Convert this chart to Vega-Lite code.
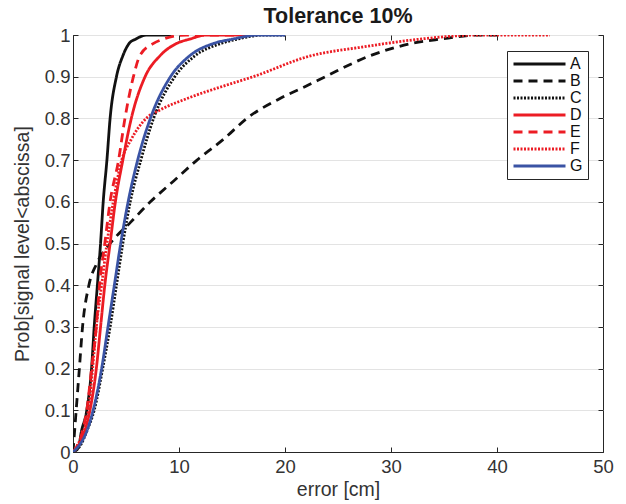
{
 "$schema": "https://vega.github.io/schema/vega-lite/v6.json",
 "width": 530, "height": 417,
 "autosize": {"type": "none"},
 "padding": {"left": 73, "top": 35, "right": 23, "bottom": 52},
 "background": "white",
 "title": {"text": "Tolerance 10%", "fontSize": 21.5, "font": "Liberation Sans", "fontWeight": "bold", "color": "#1a1a1a", "offset": -1, "anchor": "middle"},
 "config": {
  "view": {"stroke": "#262626", "strokeWidth": 1},
  "axis": {"labelFont": "Liberation Sans", "labelFontSize": 18.5, "labelColor": "#333333", "titleFont": "Liberation Sans", "titleFontSize": 19.5, "titleFontWeight": "normal", "titleColor": "#333333", "domainColor": "#262626", "tickColor": "#262626", "tickSize": -5, "gridColor": "#e3e3e3", "gridWidth": 1, "labelFlush": false}
 },
 "data": {"values": [
  {"s":"A","x":0,"y":0},{"s":"A","x":0.5,"y":0.01},{"s":"A","x":0.8,"y":0.05},{"s":"A","x":1.3,"y":0.1},{"s":"A","x":1.75,"y":0.2},{"s":"A","x":2.0,"y":0.3},{"s":"A","x":2.3,"y":0.4},{"s":"A","x":2.6,"y":0.5},{"s":"A","x":2.85,"y":0.6},{"s":"A","x":3.2,"y":0.7},{"s":"A","x":3.5,"y":0.8},{"s":"A","x":4.1,"y":0.9},{"s":"A","x":4.7,"y":0.95},{"s":"A","x":5.3,"y":0.98},{"s":"A","x":5.9,"y":0.99},{"s":"A","x":7,"y":1},{"s":"A","x":9.3,"y":1},
  {"s":"B","x":0,"y":0},{"s":"B","x":0.15,"y":0.05},{"s":"B","x":0.3,"y":0.1},{"s":"B","x":0.6,"y":0.2},{"s":"B","x":0.9,"y":0.3},{"s":"B","x":1.5,"y":0.4},{"s":"B","x":2.2,"y":0.45},{"s":"B","x":3.5,"y":0.5},{"s":"B","x":5.4,"y":0.55},{"s":"B","x":7.3,"y":0.6},{"s":"B","x":9.5,"y":0.65},{"s":"B","x":11.7,"y":0.7},{"s":"B","x":14.2,"y":0.75},{"s":"B","x":16.4,"y":0.8},{"s":"B","x":19.7,"y":0.85},{"s":"B","x":22.2,"y":0.88},{"s":"B","x":23.8,"y":0.9},{"s":"B","x":28,"y":0.95},{"s":"B","x":32,"y":0.98},{"s":"B","x":34.6,"y":0.99},{"s":"B","x":38.4,"y":1},{"s":"B","x":40.5,"y":1},
  {"s":"C","x":0,"y":0},{"s":"C","x":0.8,"y":0.02},{"s":"C","x":1.3,"y":0.05},{"s":"C","x":2.0,"y":0.1},{"s":"C","x":2.8,"y":0.2},{"s":"C","x":3.5,"y":0.3},{"s":"C","x":4.1,"y":0.4},{"s":"C","x":4.7,"y":0.5},{"s":"C","x":5.4,"y":0.6},{"s":"C","x":6.4,"y":0.7},{"s":"C","x":7.6,"y":0.8},{"s":"C","x":9.6,"y":0.9},{"s":"C","x":11.5,"y":0.95},{"s":"C","x":14,"y":0.98},{"s":"C","x":15.5,"y":0.99},{"s":"C","x":18,"y":1},{"s":"C","x":20,"y":1},
  {"s":"D","x":0,"y":0},{"s":"D","x":0.6,"y":0.02},{"s":"D","x":1.1,"y":0.05},{"s":"D","x":1.6,"y":0.1},{"s":"D","x":2.2,"y":0.2},{"s":"D","x":2.6,"y":0.3},{"s":"D","x":3.0,"y":0.4},{"s":"D","x":3.5,"y":0.5},{"s":"D","x":4.0,"y":0.6},{"s":"D","x":4.7,"y":0.7},{"s":"D","x":5.5,"y":0.8},{"s":"D","x":6.8,"y":0.9},{"s":"D","x":8.2,"y":0.95},{"s":"D","x":9.8,"y":0.98},{"s":"D","x":11,"y":0.99},{"s":"D","x":12.6,"y":1},{"s":"D","x":16.4,"y":1},
  {"s":"E","x":0,"y":0},{"s":"E","x":0.5,"y":0.02},{"s":"E","x":0.9,"y":0.05},{"s":"E","x":1.3,"y":0.1},{"s":"E","x":1.75,"y":0.2},{"s":"E","x":2.2,"y":0.3},{"s":"E","x":2.5,"y":0.4},{"s":"E","x":3.0,"y":0.5},{"s":"E","x":3.5,"y":0.6},{"s":"E","x":4.3,"y":0.7},{"s":"E","x":4.9,"y":0.8},{"s":"E","x":5.7,"y":0.9},{"s":"E","x":6.3,"y":0.95},{"s":"E","x":7.6,"y":0.98},{"s":"E","x":8.5,"y":0.99},{"s":"E","x":10.7,"y":1},{"s":"E","x":16,"y":1},
  {"s":"F","x":0,"y":0},{"s":"F","x":0.5,"y":0.02},{"s":"F","x":1.0,"y":0.05},{"s":"F","x":1.45,"y":0.1},{"s":"F","x":1.85,"y":0.2},{"s":"F","x":2.2,"y":0.3},{"s":"F","x":2.7,"y":0.4},{"s":"F","x":3.2,"y":0.5},{"s":"F","x":3.8,"y":0.6},{"s":"F","x":4.6,"y":0.7},{"s":"F","x":5.5,"y":0.75},{"s":"F","x":6.9,"y":0.8},{"s":"F","x":8.2,"y":0.82},{"s":"F","x":11,"y":0.85},{"s":"F","x":14.5,"y":0.88},{"s":"F","x":17,"y":0.9},{"s":"F","x":22.4,"y":0.95},{"s":"F","x":27,"y":0.97},{"s":"F","x":32.7,"y":0.99},{"s":"F","x":38.4,"y":1},{"s":"F","x":45,"y":1},
  {"s":"G","x":0,"y":0},{"s":"G","x":0.7,"y":0.02},{"s":"G","x":1.3,"y":0.05},{"s":"G","x":1.9,"y":0.1},{"s":"G","x":2.7,"y":0.2},{"s":"G","x":3.3,"y":0.3},{"s":"G","x":3.9,"y":0.4},{"s":"G","x":4.5,"y":0.5},{"s":"G","x":5.2,"y":0.6},{"s":"G","x":6.1,"y":0.7},{"s":"G","x":7.3,"y":0.8},{"s":"G","x":9.2,"y":0.9},{"s":"G","x":11,"y":0.95},{"s":"G","x":13.3,"y":0.98},{"s":"G","x":15,"y":0.99},{"s":"G","x":17.6,"y":1},{"s":"G","x":20,"y":1}
 ]},
 "layer": [
  {
   "mark": {"type": "line", "strokeWidth": 2.8, "clip": true, "interpolate": "monotone"},
   "encoding": {
    "x": {"field": "x", "type": "quantitative", "scale": {"domain": [0, 50], "nice": false}, "axis": {"title": "error [cm]", "values": [0,10,20,30,40,50], "grid": false, "labelPadding": 10, "titlePadding": 5}},
    "y": {"field": "y", "type": "quantitative", "scale": {"domain": [0, 1], "nice": false}, "axis": {"title": "Prob[signal level<abscissa]", "values": [0,0.1,0.2,0.3,0.4,0.5,0.6,0.7,0.8,0.9,1], "grid": true, "format": ".1~f", "labelPadding": 8, "titlePadding": 12}},
    "color": {"field": "s", "type": "nominal", "title": null,
      "scale": {"domain": ["A","B","C","D","E","F","G"], "range": ["#111111","#111111","#111111","#ec1c24","#ec1c24","#ec1c24","#3a53a4"]},
      "legend": {"orient": "none", "legendX": 434, "legendY": 16, "symbolType": "stroke", "symbolSize": 2704, "symbolStrokeWidth": 3, "clipHeight": 15.8, "rowPadding": 0, "padding": 5, "strokeColor": "#262626", "fillColor": "white", "labelFont": "Liberation Sans", "labelFontSize": 16, "labelColor": "#111111", "labelOffset": 3}},
    "strokeDash": {"field": "s", "type": "nominal", "title": null,
      "scale": {"domain": ["A","B","C","D","E","F","G"], "range": [[1,0],[9,6],[2,1.5],[1,0],[9,6],[2,1.5],[1,0]]}}
   }
  },
  {
   "mark": {"type": "line", "opacity": 0},
   "encoding": {
    "x": {"field": "x", "type": "quantitative", "axis": {"orient": "top", "title": null, "labels": false, "domain": false, "grid": false, "values": [0,10,20,30,40,50]}},
    "y": {"field": "y", "type": "quantitative", "axis": {"orient": "right", "title": null, "labels": false, "domain": false, "grid": false, "values": [0,0.1,0.2,0.3,0.4,0.5,0.6,0.7,0.8,0.9,1]}},
    "detail": {"field": "s"}
   }
  }
 ],
 "resolve": {"axis": {"x": "independent", "y": "independent"}}
}
